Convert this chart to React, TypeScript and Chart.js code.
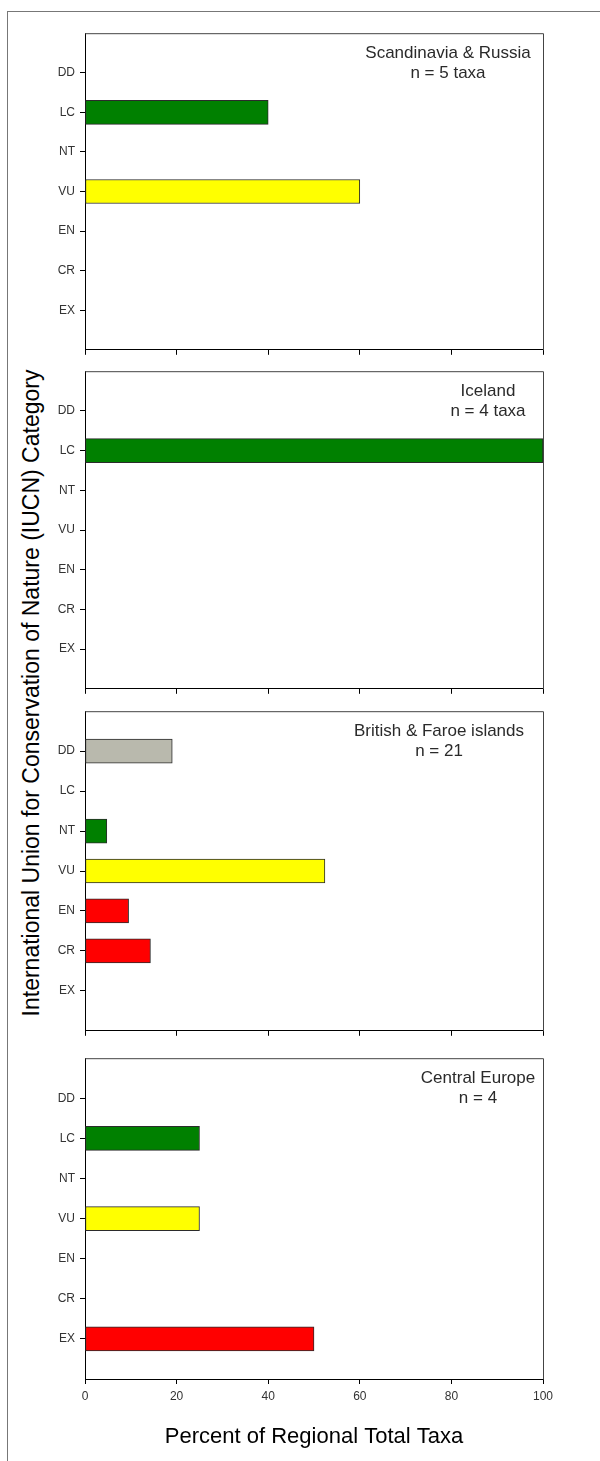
import React, { useEffect, useRef } from 'react';
import { Chart, registerables } from 'chart.js';

Chart.register(...registerables);

const FONT = 'Arial, "Liberation Sans", sans-serif';
Chart.defaults.font.family = FONT;

// ---- data ----
const CATEGORIES = ['DD', 'LC', 'NT', 'VU', 'EN', 'CR', 'EX'];
const CATEGORY_COLORS = ['#B9B9AD', '#008000', '#008000', '#FFFF00', '#FF0000', '#FF0000', '#FF0000'];
const X_TICKS = [0, 20, 40, 60, 80, 100];

const SCANDINAVIA_RUSSIA = [0, 40, 0, 60, 0, 0, 0];
const ICELAND = [0, 100, 0, 0, 0, 0, 0];
const BRITISH_FAROE = [19.05, 0, 4.76, 52.38, 9.52, 14.29, 0];
const CENTRAL_EUROPE = [0, 25, 0, 25, 0, 0, 50];

const REGION_NAMES = ['Scandinavia & Russia', 'Iceland', 'British & Faroe islands', 'Central Europe'];
const REGION_COUNTS = ['n = 5 taxa', 'n = 4 taxa', 'n = 21', 'n = 4'];

const X_TITLE = 'Percent of Regional Total Taxa';
const Y_TITLE = 'International Union for Conservation of Nature (IUCN) Category';

// ---- layout (positions only) ----
const PANELS = [
  { values: SCANDINAVIA_RUSSIA, top: 33, bottom: 352, titleX: 448 },
  { values: ICELAND, top: 371, bottom: 691, titleX: 488 },
  { values: BRITISH_FAROE, top: 711, bottom: 1033, titleX: 439 },
  { values: CENTRAL_EUROPE, top: 1058, bottom: 1379, titleX: 478 },
];
const PAD_TOP = 12;

const boxPlugin = {
  id: 'plotBox',
  afterDraw(chart: any) {
    const { ctx, chartArea } = chart;
    ctx.save();
    ctx.strokeStyle = '#444';
    ctx.lineWidth = 1;
    ctx.beginPath();
    ctx.moveTo(chartArea.left, chartArea.top + 0.5);
    ctx.lineTo(chartArea.right + 0.5, chartArea.top + 0.5);
    ctx.lineTo(chartArea.right + 0.5, chartArea.bottom + 0.5);
    ctx.stroke();
    ctx.restore();
  },
};

const titlePlugin = {
  id: 'panelTitle',
  afterDraw(chart: any, _args: any, opts: any) {
    const { ctx, chartArea } = chart;
    ctx.save();
    ctx.font = `17px ${FONT}`;
    ctx.fillStyle = '#2a2a2a';
    ctx.textAlign = 'center';
    ctx.textBaseline = 'middle';
    ctx.fillText(opts.name, opts.x, chartArea.top + 20);
    ctx.fillText(opts.count, opts.x, chartArea.top + 40);
    ctx.restore();
  },
};

function makeConfig(idx: number): any {
  const panel = PANELS[idx];
  const isLast = idx === PANELS.length - 1;
  const points = panel.values
    .map((v, i) => ({ x: v, y: i }))
    .filter((p) => p.x > 0);
  return {
    type: 'bar',
    data: {
      datasets: [
        {
          data: points,
          backgroundColor: points.map((p) => CATEGORY_COLORS[p.y]),
          borderColor: '#2b2b2b',
          borderWidth: 1,
          borderSkipped: false,
          barThickness: 24,
        },
      ],
    },
    options: {
      indexAxis: 'y',
      animation: false,
      responsive: false,
      maintainAspectRatio: false,
      layout: { padding: { top: PAD_TOP, right: 57, left: 0, bottom: 0 } },
      plugins: {
        legend: { display: false },
        tooltip: { enabled: false },
        panelTitle: { name: REGION_NAMES[idx], count: REGION_COUNTS[idx], x: panel.titleX },
      },
      scales: {
        x: {
          type: 'linear',
          min: 0,
          max: 100,
          offset: false,
          afterBuildTicks: (s: any) => {
            s.ticks = X_TICKS.map((v) => ({ value: v }));
          },
          afterFit: (s: any) => {
            s.height = isLast ? 75 : 10;
          },
          grid: { drawOnChartArea: false, drawTicks: true, tickLength: 5, color: '#000', offset: false },
          border: { display: true, color: '#000', width: 1 },
          ticks: { display: isLast, color: '#333', font: { size: 12 }, padding: 5, maxRotation: 0, autoSkip: false },
          title: {
            display: isLast,
            text: X_TITLE,
            color: '#000',
            font: { size: 22 },
            padding: { top: 0, bottom: 4 },
          },
        },
        y: {
          type: 'linear',
          reverse: true,
          min: -1,
          max: 7,
          offset: false,
          afterBuildTicks: (s: any) => {
            s.ticks = CATEGORIES.map((_, i) => ({ value: i }));
          },
          afterFit: (s: any) => {
            s.width = 85;
          },
          grid: { drawOnChartArea: false, drawTicks: true, tickLength: 5, color: '#000', offset: false },
          border: { display: true, color: '#000', width: 1 },
          ticks: {
            autoSkip: false,
            color: '#333',
            font: { size: 12 },
            padding: 5,
            callback: (v: any) => CATEGORIES[v as number] ?? '',
          },
        },
      },
    },
    plugins: [boxPlugin, titlePlugin],
  };
}

function Panel({ idx }: { idx: number }) {
  const ref = useRef<HTMLCanvasElement>(null);
  const panel = PANELS[idx];
  const isLast = idx === PANELS.length - 1;
  const top = panel.top - PAD_TOP;
  const height = panel.bottom - panel.top + PAD_TOP + (isLast ? 75 : 10);
  useEffect(() => {
    const chart = new Chart(ref.current as HTMLCanvasElement, makeConfig(idx));
    return () => chart.destroy();
  }, [idx]);
  return (
    <canvas
      ref={ref}
      width={600}
      height={height}
      style={{ position: 'absolute', left: 0, top, width: 600, height, display: 'block' }}
    />
  );
}

export default function App() {
  return (
    <div
      style={{
        position: 'absolute',
        left: 0,
        top: 0,
        width: 600,
        height: 1461,
        overflow: 'hidden',
        background: '#fff',
      }}
    >
      <div
        style={{
          position: 'absolute',
          left: 7,
          top: 11,
          width: 620,
          height: 1480,
          borderLeft: '1px solid #777',
          borderTop: '1px solid #777',
        }}
      />
      <div
        style={{
          position: 'absolute',
          left: 31,
          top: 693,
          transform: 'translate(-50%, -50%) rotate(-90deg)',
          whiteSpace: 'nowrap',
          font: `23px ${FONT}`,
          color: '#000',
          lineHeight: 1,
        }}
      >
        {Y_TITLE}
      </div>
      {PANELS.map((_, i) => (
        <Panel key={i} idx={i} />
      ))}
    </div>
  );
}
